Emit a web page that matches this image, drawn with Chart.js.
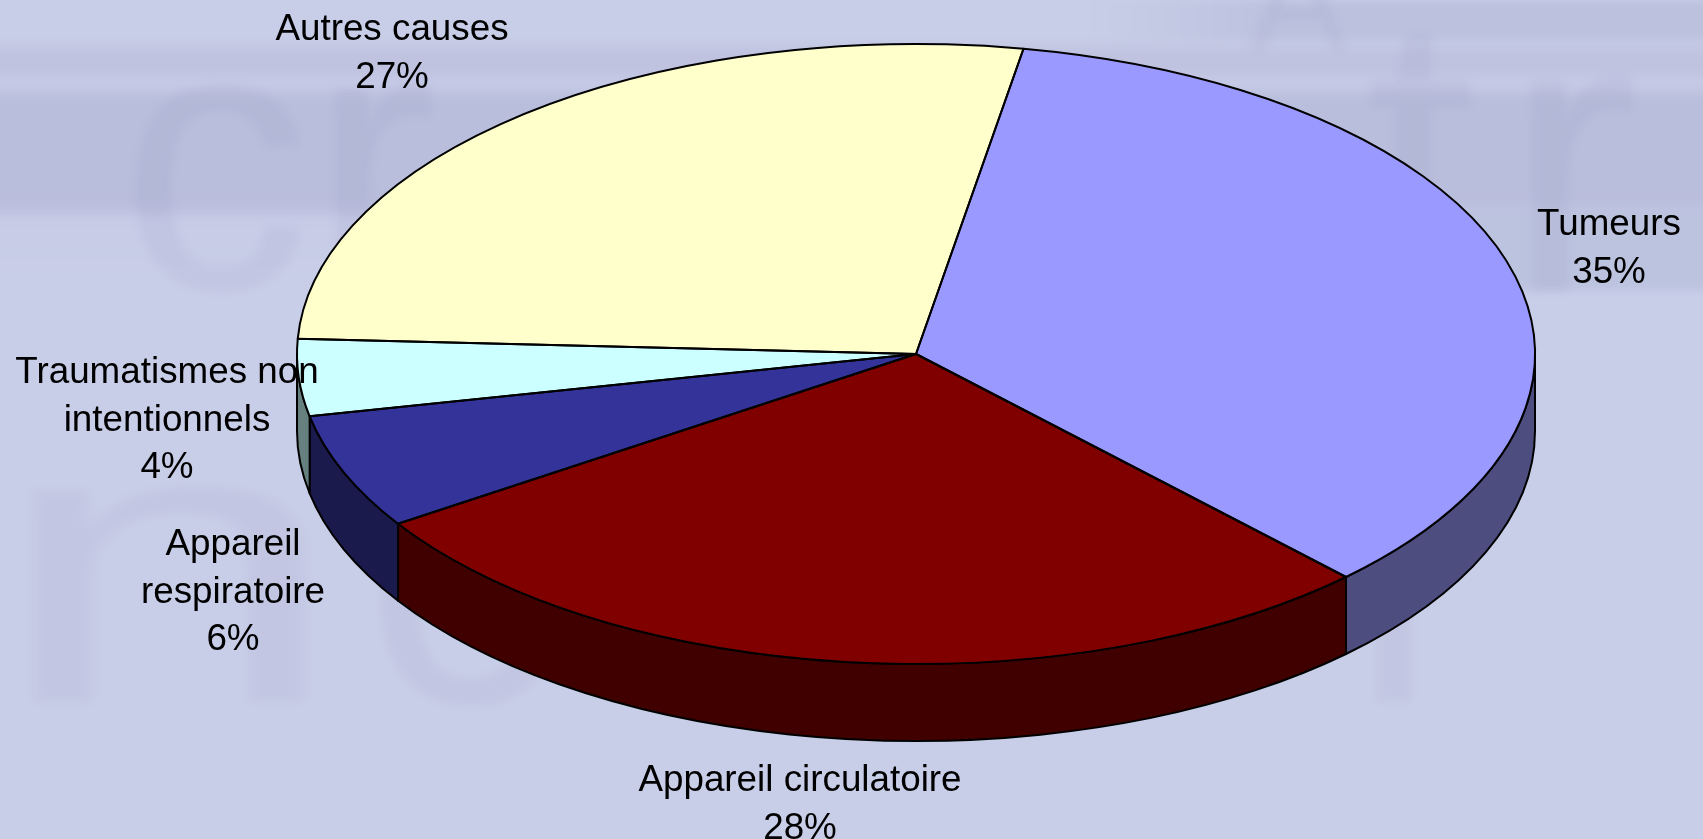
<!DOCTYPE html>
<html>
<head>
<meta charset="utf-8">
<title>Causes de décès</title>
<script src="https://cdn.jsdelivr.net/npm/chart.js@4/dist/chart.umd.min.js"></script>
<style>
    html, body { margin: 0; padding: 0; overflow: hidden; background: #c9cee8; }
    #page { position: relative; width: 1703px; height: 839px; overflow: hidden; }
    #bands { position: absolute; left: -20px; right: -20px; top: -20px; bottom: -20px; filter: blur(5px);
        background:
            linear-gradient(to right, rgba(188,194,222,0) 1100px, #bcc2de 1300px) 0 20px / 100% 40px no-repeat,
            linear-gradient(to right, rgba(188,194,222,0) 1150px, #bcc3df 1300px) 0 225px / 100% 85px no-repeat,
            linear-gradient(to bottom, #c9cee8 0, #c9cee8 58px, #bfc3e0 72px, #bfc3e0 92px, #c6cae6 100px, #c4c8e4 108px, #b9bedc 118px, #b9bedc 215px, #bbbedd 228px, #c7cbe6 238px, #c9cee8 300px, #c9cee8 100%); }
    .ghost { position: absolute; font-family: "Liberation Sans", sans-serif; font-size: 400px; line-height: 1;
        color: rgba(110, 120, 165, 0.08); filter: blur(4px); white-space: nowrap; transform-origin: left top; }
    #chart { position: absolute; left: 0; top: 0; }
</style>
</head>
<body>
<div id="page">
    <div id="bands"></div>
    <div class="ghost" style="left:120px; top:-32px; font-size:380px;">cr</div>
    <div class="ghost" style="left:1250px; top:-73px; font-size:145px;">A</div>
    <div class="ghost" style="left:1365px; top:-46px;">t</div>
    <div class="ghost" style="left:1505px; top:-46px;">r</div>
    <div class="ghost" style="left:-9px; top:364px; transform:scaleX(1.6);">n</div>
    <div class="ghost" style="left:364px; top:364px;">c</div>
    <div class="ghost" style="left:1349px; top:364px;">r</div>
    <canvas id="chart" width="1703" height="839"></canvas>
</div>
<script>
const categories = ['Tumeurs', 'Appareil circulatoire', 'Appareil respiratoire', 'Traumatismes non intentionnels', 'Autres causes']
const values = [35, 28, 6, 4, 27]
const labelLines = [['Tumeurs'], ['Appareil circulatoire'], ['Appareil', 'respiratoire'], ['Traumatismes non', 'intentionnels'], ['Autres causes']]
const faceColors = ['#9999ff', '#800000', '#333399', '#ccffff', '#ffffcc']
const sideColors = ['#4d4d80', '#400000', '#1a1a4d', '#668080', '#808066']

// where the labels sit (centre x, baseline of first line)
const labelPos = [[1609, 235], [800, 791], [233, 555], [167, 383], [392, 40]]

// tilted pie, the flat circle from chart.js gets squashed into this ellipse
const pieX = 916, pieY = 354, pieRx = 619, pieRy = 310, pieDepth = 77

const tiltPie = {
    id: 'tiltPie',
    beforeDatasetsDraw(chart) {
        const { ctx } = chart
        const arcs = chart.getDatasetMeta(0).data
        ctx.save()
        ctx.strokeStyle = '#000'
        ctx.lineWidth = 2
        ctx.lineJoin = 'round'
        //side wall, only the front half of the pie shows it
        arcs.forEach((arc, i) => {
            const a = Math.max(arc.startAngle, 0)
            const b = Math.min(arc.endAngle, Math.PI)
            if (b <= a) return
            ctx.beginPath()
            ctx.ellipse(pieX, pieY, pieRx, pieRy, 0, a, b)
            ctx.ellipse(pieX, pieY + pieDepth, pieRx, pieRy, 0, b, a, true)
            ctx.closePath()
            ctx.fillStyle = sideColors[i]
            ctx.fill()
            ctx.stroke()
        })
        ctx.restore()

        ctx.save()
        const r = arcs[0].outerRadius
        ctx.translate(pieX, pieY)
        ctx.scale(pieRx / r, pieRy / r)
        ctx.translate(-arcs[0].x, -arcs[0].y)
    },
    afterDatasetsDraw(chart) {
        const { ctx } = chart
        const arcs = chart.getDatasetMeta(0).data
        ctx.restore()

        //outlines, done after the restore so the line keeps one width
        ctx.save()
        ctx.strokeStyle = '#000'
        ctx.lineWidth = 2
        ctx.lineJoin = 'round'
        arcs.forEach((arc) => {
            ctx.beginPath()
            ctx.moveTo(pieX, pieY)
            ctx.ellipse(pieX, pieY, pieRx, pieRy, 0, arc.startAngle, arc.endAngle)
            ctx.closePath()
            ctx.stroke()
        })
        ctx.restore()

        //labels
        ctx.save()
        ctx.font = '36.8px "Liberation Sans", Arial, sans-serif'
        ctx.fillStyle = '#000'
        ctx.textAlign = 'center'
        ctx.textBaseline = 'alphabetic'
        labelLines.forEach((lines, i) => {
            const rows = [...lines, values[i] + '%']
            rows.forEach((row, j) => {
                ctx.fillText(row, labelPos[i][0], labelPos[i][1] + j * 47.5)
            })
        })
        ctx.restore()
    }
}

new Chart(document.getElementById('chart'), {
    type: 'pie',
    data: {
        labels: categories,
        datasets: [{ data: values, backgroundColor: faceColors, borderWidth: 0 }]
    },
    options: {
        responsive: false,
        animation: false,
        rotation: 10,
        plugins: { legend: { display: false }, tooltip: { enabled: false } }
    },
    plugins: [tiltPie]
})
</script>
</body>
</html>
